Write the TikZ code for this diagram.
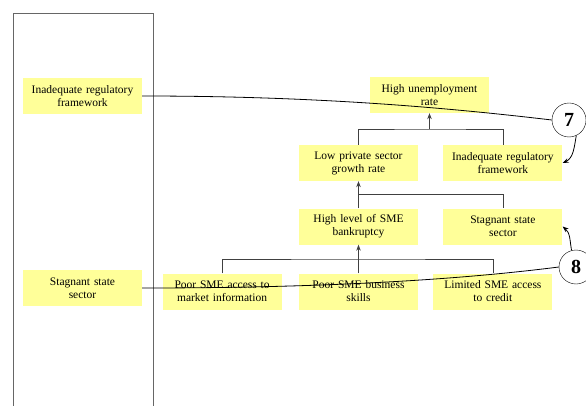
\documentclass[tikz,border=0pt]{standalone}
\usepackage{fontspec}
\setmainfont{Liberation Serif}
\usetikzlibrary{arrows.meta, positioning}
\definecolor{notepad}{HTML}{FFFF99}

\begin{document}
\begin{tikzpicture}[
  x=1pt, y=1pt,
  >={Stealth[length=6pt,width=4.5pt]},
  box/.style={fill=notepad, minimum width=119pt, minimum height=36pt, text width=114pt, align=center, inner sep=0pt, font=\fontsize{11.5}{13}\selectfont},
  link/.style={draw=black!75, line width=0.6pt},
  tag/.style={draw, circle, minimum size=34pt, inner sep=0pt, fill=white, font=\fontsize{20}{20}\selectfont\bfseries},
  node distance=28pt and 25pt]
  \useasboundingbox (0,0) rectangle (586,405);
  \clip (0,0) rectangle (586,405);
  % left column
  \draw[black!60, line width=0.7pt] (13,-5) -- (13,392) -- (153,392) -- (153,-5);
  \node[box] (leftreg)  at (82.5,309) {Inadequate regulatory\\framework};
  \node[box] (leftstag) at (82.5,117) {Stagnant state\\sector};
  % problem tree
  \node[box] (unemp)     at (429.5,310) {High unemployment\\rate};
  \node[box] (lowgrowth) at (358.5,242) {Low private sector\\growth rate};
  \node[box, right=25pt of lowgrowth] (rightreg) {Inadequate regulatory\\framework};
  \node[box] (bankrupt)  at (358.5,178.5) {High level of SME\\bankruptcy};
  \node[box, right=25pt of bankrupt] (rightstag) {Stagnant state\\sector};
  \node[box] (skills)    at (358.5,113.5) {Poor SME business\\skills};
  \node[box, left=17pt of skills]  (market) {Poor SME access to\\market information};
  \node[box, right=15pt of skills] (credit) {Limited SME access\\to credit};
  \coordinate (j1) at (unemp.south |- 0,276);
  \coordinate (j2) at (lowgrowth.south |- 0,211);
  \coordinate (j3) at (skills.north |- 0,146);
  \draw[link] (lowgrowth.north) |- (j1) -| (rightreg.north);
  \draw[link, ->] (j1) -- (unemp.south);
  \draw[link] (bankrupt.north) -- (j2) -| (rightstag.north);
  \draw[link, ->] (j2) -- (lowgrowth.south);
  \draw[link] (market.north) |- (j3) -| (credit.north);
  \draw[link, ->] (skills.north) -- (bankrupt.south);
  % cross references
  \node[tag] (seven) at (569,285) {7};
  \node[tag] (eight) at (576,138) {8};
  \draw[line width=0.8pt] (leftreg.east) .. controls +(170,0) and +(-110,13) .. (seven.west);
  \draw[line width=0.8pt] (eight.west) .. controls +(-110,-14) and +(170,0) .. (leftstag.east);
  \draw[line width=0.8pt, ->] (seven.-65) to[out=-100, in=25] (rightreg.east);
  \draw[line width=0.8pt, ->] (eight.105) to[out=100, in=-40] (rightstag.east);
\end{tikzpicture}
\end{document}
